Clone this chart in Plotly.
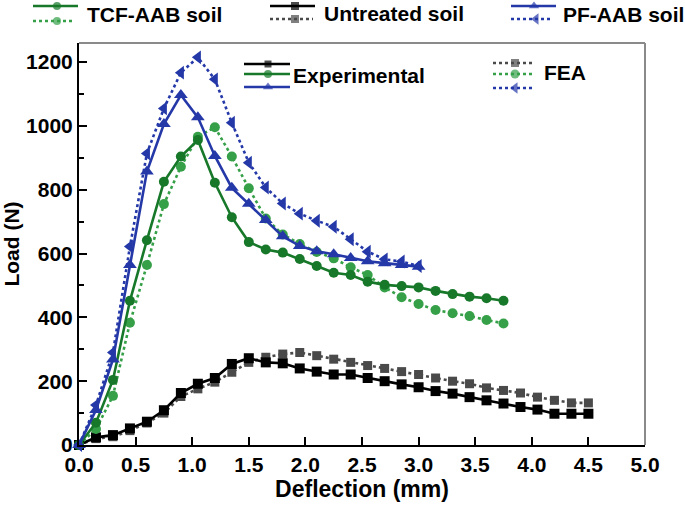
import plotly.graph_objects as go

# ---------------- data ----------------
step = 0.15
untreated_exp = [0, 24, 31, 52, 73, 109, 163, 192, 210, 254, 272, 259, 256, 240, 230, 221, 221, 210,
                 200, 190, 181, 169, 161, 150, 140, 130, 119, 111, 98, 98, 98]
untreated_fea = [0, 20, 26, 45, 69, 100, 152, 176, 197, 228, 259, 275, 285, 290, 280, 269, 259, 249,
                 240, 230, 221, 210, 200, 192, 179, 171, 163, 150, 140, 132, 132]
tcf_exp = [0, 70, 204, 452, 642, 825, 904, 956, 822, 714, 636, 613, 603, 583, 561, 540, 533, 512,
           502, 498, 494, 483, 473, 465, 460, 452]
tcf_fea = [0, 50, 154, 383, 564, 755, 872, 966, 996, 904, 805, 710, 660, 630, 605, 585, 557, 533,
           494, 463, 442, 423, 413, 404, 392, 381]
pf_exp = [0, 110, 268, 564, 857, 1006, 1097, 1027, 906, 806, 756, 705, 654, 624, 607, 598, 586,
          576, 570, 564, 559]
pf_fea = [0, 125, 290, 622, 914, 1055, 1167, 1215, 1146, 1010, 885, 807, 757, 725, 703, 684, 645,
          606, 582, 575, 561]

x_ticks = [0, 0.5, 1.0, 1.5, 2.0, 2.5, 3.0, 3.5, 4.0, 4.5, 5.0]
x_ticklabels = [f"{v:.1f}" for v in x_ticks]
y_ticks = [0, 200, 400, 600, 800, 1000, 1200]


def xs(vals):
    return [round(i * step, 4) for i in range(len(vals))]


# ---------------- styles ----------------
W, H = 685, 510
FONT = "Liberation Sans, Arial, sans-serif"
BLACK = "#000000"
GRAY = "#4a4a4a"
GREEN = "#17782a"
GREEN_FEA = "#35a048"
BLUE = "#2438a8"

series = [
    # (values, color, dash, symbol, size)
    (untreated_fea, GRAY, "dot", "square", 9),
    (untreated_exp, BLACK, "solid", "square", 10),
    (tcf_fea, GREEN_FEA, "dot", "circle", 10),
    (tcf_exp, GREEN, "solid", "circle", 10),
    (pf_fea, BLUE, "dot", "triangle-left", 12),
    (pf_exp, BLUE, "solid", "triangle-up", 12),
]

fig = go.Figure()
for vals, col, dash, sym, sz in series:
    fig.add_trace(go.Scatter(
        x=xs(vals), y=vals, mode="lines+markers", xaxis="x", yaxis="y",
        line=dict(color=col, width=2.6, dash=dash),
        marker=dict(symbol=sym, size=sz, color=col, line=dict(width=0)),
        showlegend=False, cliponaxis=False,
    ))

# ---------------- custom legend glyphs (pixel overlay subplot) ----------------
legend_glyphs = [
    # (x0, x1, xm, y, color, dash, symbol, size)
    (33, 78, 57, 6, GREEN, "solid", "circle", 8),
    (33, 75, 57, 21, GREEN_FEA, "dot", "circle", 8),
    (270, 315, 295, 6, BLACK, "solid", "square", 8),
    (270, 313, 295, 19, GRAY, "dot", "square", 8),
    (511, 556, 534, 6, BLUE, "solid", "triangle-up", 9),
    (511, 552, 536, 19, BLUE, "dot", "triangle-left", 10),
    (244, 290, 268, 64, BLACK, "solid", "square", 7),
    (244, 290, 268, 74, GREEN, "solid", "circle", 8),
    (244, 290, 268, 87, BLUE, "solid", "triangle-up", 9),
    (493, 535, 515, 63, GRAY, "dot", "square", 8),
    (493, 535, 515, 74, GREEN_FEA, "dot", "circle", 9),
    (493, 535, 515, 88, BLUE, "dot", "triangle-left", 10),
]
for x0, x1, xm, yy, col, dash, sym, sz in legend_glyphs:
    fig.add_trace(go.Scatter(
        x=[x0, xm, x1], y=[yy, yy, yy], mode="lines+markers", xaxis="x2", yaxis="y2",
        line=dict(color=col, width=2.5, dash=dash),
        marker=dict(symbol=sym, size=[0, sz, 0], color=col, line=dict(width=0)),
        showlegend=False, cliponaxis=False, hoverinfo="skip",
    ))

legend_texts = [
    ("TCF-AAB soil", 85, 14),
    ("Untreated soil", 322, 13),
    ("PF-AAB soil", 561, 14),
    ("Experimental", 291, 75),
    ("FEA", 542, 73),
]
annotations = []
for txt, px, py in legend_texts:
    annotations.append(dict(
        text=txt, x=px / W, y=1 - py / H, xref="paper", yref="paper",
        xanchor="left", yanchor="middle", showarrow=False,
        font=dict(family=FONT, size=21, color="black", weight="bold"),
    ))

# plot area (pixels)
L, R, T, B = 79, 645, 43, 445

fig.update_layout(
    width=W, height=H,
    margin=dict(l=0, r=0, t=0, b=0),
    paper_bgcolor="white", plot_bgcolor="rgba(0,0,0,0)",
    showlegend=False,
    annotations=annotations,
    font=dict(family=FONT, color="black"),
    xaxis=dict(
        domain=[L / W, R / W], range=[0, 5], anchor="y",
        tickvals=x_ticks, ticktext=x_ticklabels,
        ticks="inside", ticklen=8, tickwidth=2, tickcolor="black",
        showline=True, linecolor="black", linewidth=2, mirror=False,
        showgrid=False, zeroline=False,
        tickfont=dict(family=FONT, size=21, color="black", weight="bold"),
        title=dict(text="Deflection (mm)", standoff=6,
                   font=dict(family=FONT, size=23, color="black", weight="bold")),
        automargin=False,
    ),
    yaxis=dict(
        domain=[(H - B) / H, (H - T) / H], range=[0, 1260], anchor="x",
        tickvals=y_ticks,
        ticks="inside", ticklen=8, tickwidth=2, tickcolor="black",
        minor=dict(dtick=100, tick0=0, ticks="inside", ticklen=5, tickwidth=2, tickcolor="black"),
        showline=True, linecolor="black", linewidth=2, mirror=False,
        showgrid=False, zeroline=False,
        tickfont=dict(family=FONT, size=21, color="black", weight="bold"),
        title=dict(text="Load (N)", standoff=4,
                   font=dict(family=FONT, size=21, color="black", weight="bold")),
        automargin=False,
    ),
    xaxis2=dict(domain=[0, 1], range=[0, W], anchor="y2", visible=False, fixedrange=True),
    yaxis2=dict(domain=[0, 1], range=[H, 0], anchor="x2", visible=False, fixedrange=True),
    shapes=[
        dict(type="line", xref="x domain", yref="y domain", x0=0, x1=1, y0=1, y1=1,
             line=dict(color="#8a8a8a", width=2)),
        dict(type="line", xref="x domain", yref="y domain", x0=1, x1=1, y0=0, y1=1,
             line=dict(color="#8a8a8a", width=2)),
    ],
)

fig.write_html(
    "out.html",
    config={"displayModeBar": False},
    post_script="document.body.style.margin='0';document.body.style.overflow='hidden';",
)
